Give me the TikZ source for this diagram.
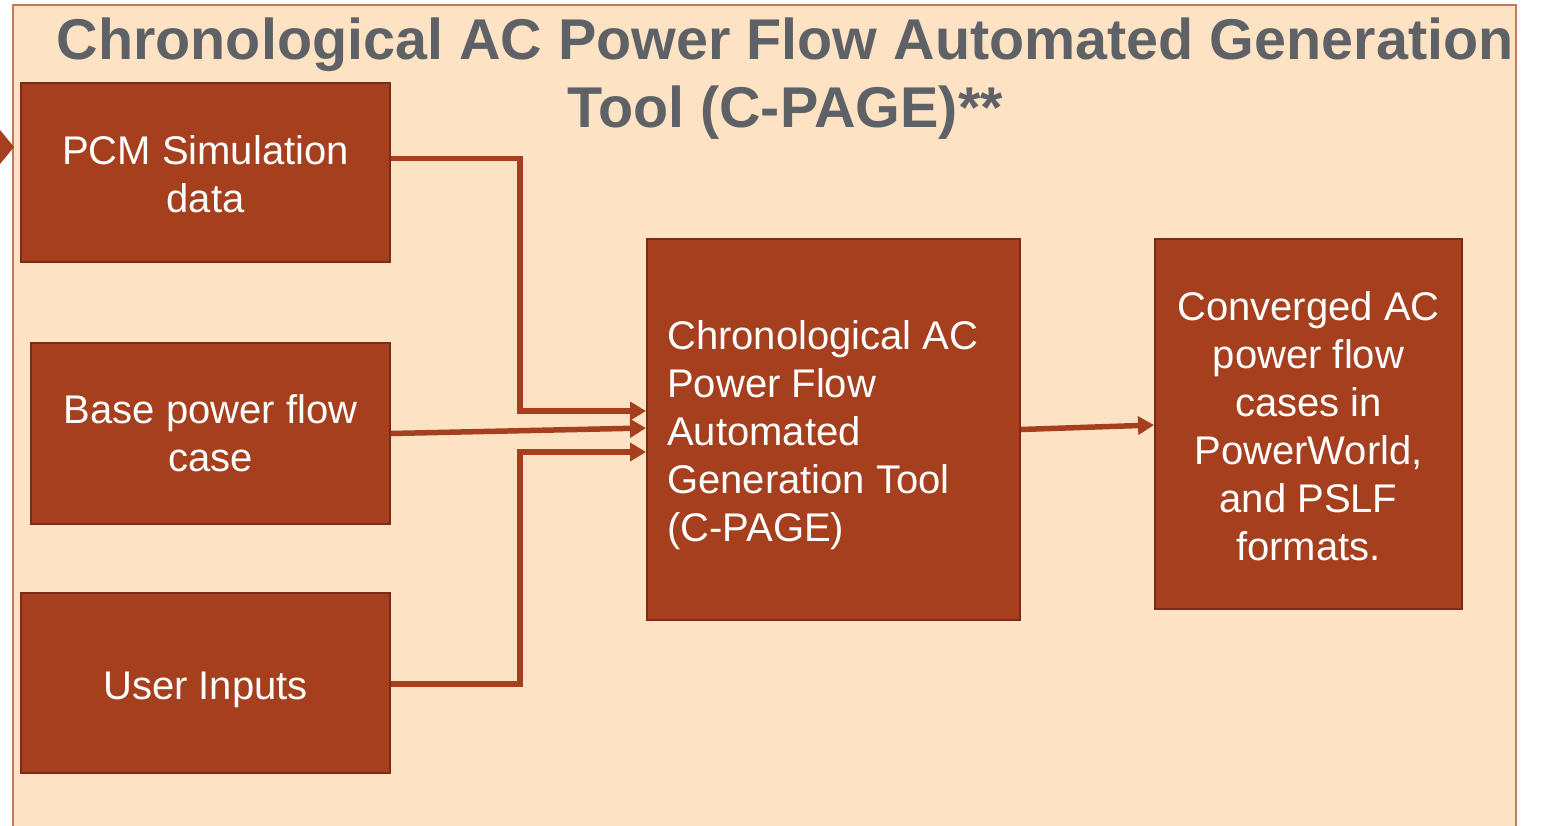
\documentclass[tikz,border=0pt]{standalone}
\usepackage{fontspec}
\setmainfont{Liberation Sans}
\usetikzlibrary{arrows.meta}
\definecolor{bgpeach}{HTML}{FDE3C4}
\definecolor{bgedge}{HTML}{C8785A}
\definecolor{boxfill}{HTML}{A63F1E}
\definecolor{boxedge}{HTML}{7B2C14}
\definecolor{titlegray}{HTML}{5E6166}
\tikzset{
  box/.style={draw=boxedge, line width=2pt, fill=boxfill, inner sep=0pt},
  lbl/.style={text=white, font=\fontsize{40}{48}\selectfont, align=center, inner sep=0pt},
  conn/.style={draw=boxfill, line width=5.5pt,
    -{Triangle[length=16pt,width=18pt]}},
}
\begin{document}
\begin{tikzpicture}[x=1pt,y=-1pt]
\useasboundingbox (0,0) rectangle (1549,825);
% background panel
\draw[bgedge, line width=2pt, fill=bgpeach] (13,830) -- (13,5) -- (1516,5) -- (1516,830);
% partial arrow at left edge
\fill[boxfill] (0,130) -- (14,147) -- (0,164) -- cycle;
% title
\node[text=titlegray, font=\fontsize{57.5}{68}\selectfont\bfseries, align=center]
  (title) at (785,79) {Chronological AC Power Flow Automated Generation\\Tool (C-PAGE)**};
% boxes
\node[box, minimum width=369pt, minimum height=179pt] (pcm) at (205.5,172.5) {};
\node[box, minimum width=359pt, minimum height=181pt] (base) at (210.5,433.5) {};
\node[box, minimum width=369pt, minimum height=180pt] (user) at (205.5,683) {};
\node[box, minimum width=373pt, minimum height=381pt] (cpage) at (833.5,429.5) {};
\node[box, minimum width=307pt, minimum height=370pt] (out) at (1308.5,424) {};
% texts
\node[lbl] (pcmtext) at ([yshift=-1.5pt]pcm.center) {PCM Simulation\\data};
\node[lbl] (basetext) at (base.center) {Base power flow\\case};
\node[lbl] (usertext) at ([yshift=-7pt]user.center) {User Inputs};
\node[lbl, align=left, anchor=west] (cpagetext) at ([xshift=21pt,yshift=-6pt]cpage.west)
  {Chronological AC\\Power Flow\\Automated\\Generation Tool\\(C-PAGE)};
\node[lbl] (outtext) at ([yshift=-2.5pt]out.center)
  {Converged AC\\power flow\\cases in\\PowerWorld,\\and PSLF\\formats.};
% connectors
\draw[conn] ([yshift=14pt]pcm.east) -- ++(129,0) |- ([yshift=18.5pt]cpage.west);
\draw[conn] (base.east) -- ([yshift=1.5pt]cpage.west);
\draw[conn] ([yshift=-1pt]user.east) -- ++(129,0) |- ([yshift=-22.5pt]cpage.west);
\draw[conn] (cpage.east) -- ([yshift=-1pt]out.west);
\end{tikzpicture}
\end{document}
